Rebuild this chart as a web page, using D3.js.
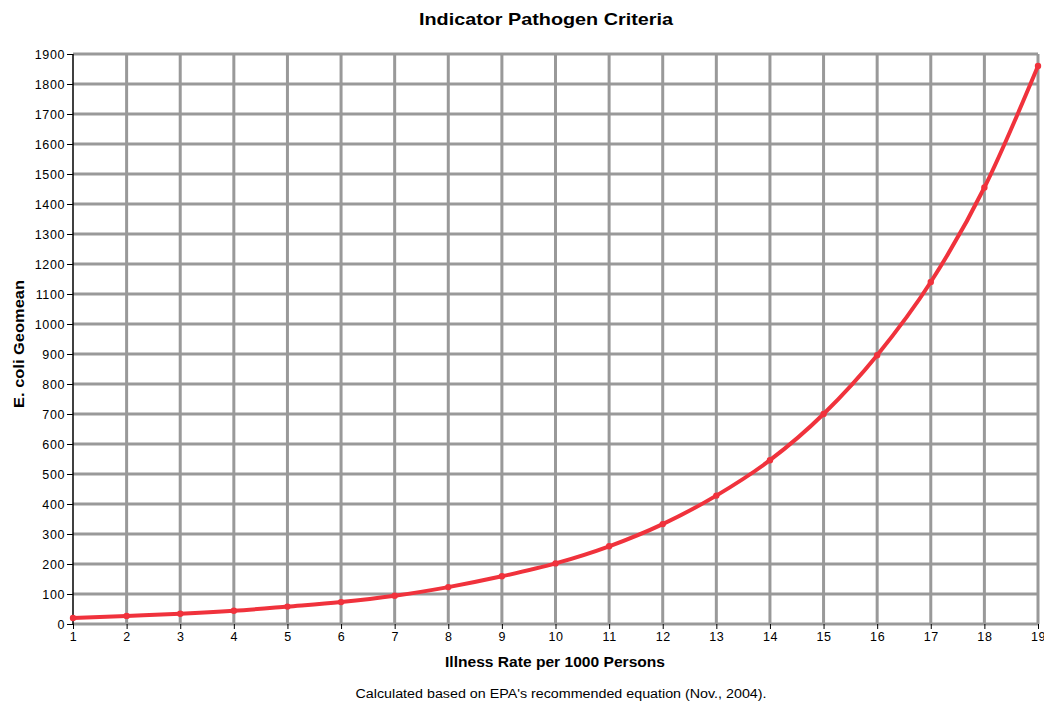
<!DOCTYPE html>
<meta charset="utf-8">
<style>
body { margin: 0; background: #fff; }
text { font-family: "Liberation Sans", Arial, sans-serif; fill: #000; }
.grid line { stroke: #999; stroke-width: 3px; }
.axis path { display: none; }
.axis line { stroke: #000; }
.axis text { font-size: 12.5px; letter-spacing: 0.6px; }
</style>
<svg width="1044" height="703"></svg>
<script src="https://d3js.org/d3.v7.min.js"></script>
<script>

// illness rate per 1000 persons
var illnessRate = [1, 2, 3, 4, 5, 6, 7, 8, 9, 10, 11, 12, 13, 14, 15, 16, 17, 18, 19];
// E. coli geomean
var geomean = [20, 27, 34, 44, 58, 73, 94, 123, 159, 202, 259, 333, 428, 546, 700, 896, 1140, 1455, 1860];
var yTicks = d3.range(0, 1901, 100);

var svg = d3.select("svg");
var margin = {left: 73, right: 6, top: 54, bottom: 79};
var width = 1044 - margin.left - margin.right,
    height = 703 - margin.top - margin.bottom;

var x = d3.scaleLinear().domain([1, 19]).range([0, width]);
var y = d3.scaleLinear().domain([0, 1900]).range([height, 0]);

var g = svg.append("g").attr("transform", "translate(" + margin.left + "," + margin.top + ")");

// grid
var grid = g.append("g").attr("class", "grid");
grid.selectAll(".h").data(yTicks).enter().append("line")
  .attr("x1", 0).attr("x2", width)
  .attr("y1", function(d) { return y(d); })
  .attr("y2", function(d) { return y(d); });
grid.selectAll(".v").data(illnessRate.slice(1)).enter().append("line")
  .attr("y1", 0).attr("y2", height)
  .attr("x1", function(d) { return x(d); })
  .attr("x2", function(d) { return x(d); });

// axes
g.append("g").attr("class", "axis")
  .call(d3.axisLeft(y).tickValues(yTicks).tickFormat(d3.format("d")).tickSize(6).tickPadding(2));
g.append("line").attr("x1", 0).attr("x2", 0).attr("y1", 0).attr("y2", height)
  .attr("stroke", "#000").attr("stroke-width", 1.5);

g.append("g").attr("class", "axis")
  .attr("transform", "translate(0," + height + ")")
  .call(d3.axisBottom(x).tickValues(illnessRate).tickFormat(d3.format("d")).tickSize(5).tickPadding(3));

// the curve
var line = d3.line()
  .x(function(d, i) { return x(illnessRate[i]); })
  .y(function(d) { return y(d); })
  .curve(d3.curveMonotoneX);

g.append("path")
  .datum(geomean)
  .attr("fill", "none")
  .attr("stroke", "#f0323c")
  .attr("stroke-width", 4)
  .attr("stroke-linejoin", "round")
  .attr("d", line);

g.selectAll(".dot").data(geomean).enter().append("circle")
  .attr("cx", function(d, i) { return x(illnessRate[i]); })
  .attr("cy", function(d) { return y(d); })
  .attr("r", 3.2)
  .attr("fill", "#f0323c");

// titles
svg.append("text").attr("x", 546).attr("y", 24.5).attr("text-anchor", "middle")
  .attr("textLength", 254).attr("lengthAdjust", "spacingAndGlyphs")
  .style("font-size", "17px").style("font-weight", "bold")
  .text("Indicator Pathogen Criteria");

svg.append("text").attr("x", 555).attr("y", 667).attr("text-anchor", "middle")
  .attr("textLength", 220).attr("lengthAdjust", "spacingAndGlyphs")
  .style("font-size", "15px").style("font-weight", "bold")
  .text("Illness Rate per 1000 Persons");

svg.append("text")
  .attr("transform", "translate(24," + 344 + ") rotate(-90)")
  .attr("text-anchor", "middle")
  .attr("textLength", 128).attr("lengthAdjust", "spacingAndGlyphs")
  .style("font-size", "15px").style("font-weight", "bold")
  .text("E. coli Geomean");

svg.append("text").attr("x", 561).attr("y", 698).attr("text-anchor", "middle")
  .attr("textLength", 411).attr("lengthAdjust", "spacingAndGlyphs")
  .style("font-size", "12.5px")
  .text("Calculated based on EPA's recommended equation (Nov., 2004).");

</script>
